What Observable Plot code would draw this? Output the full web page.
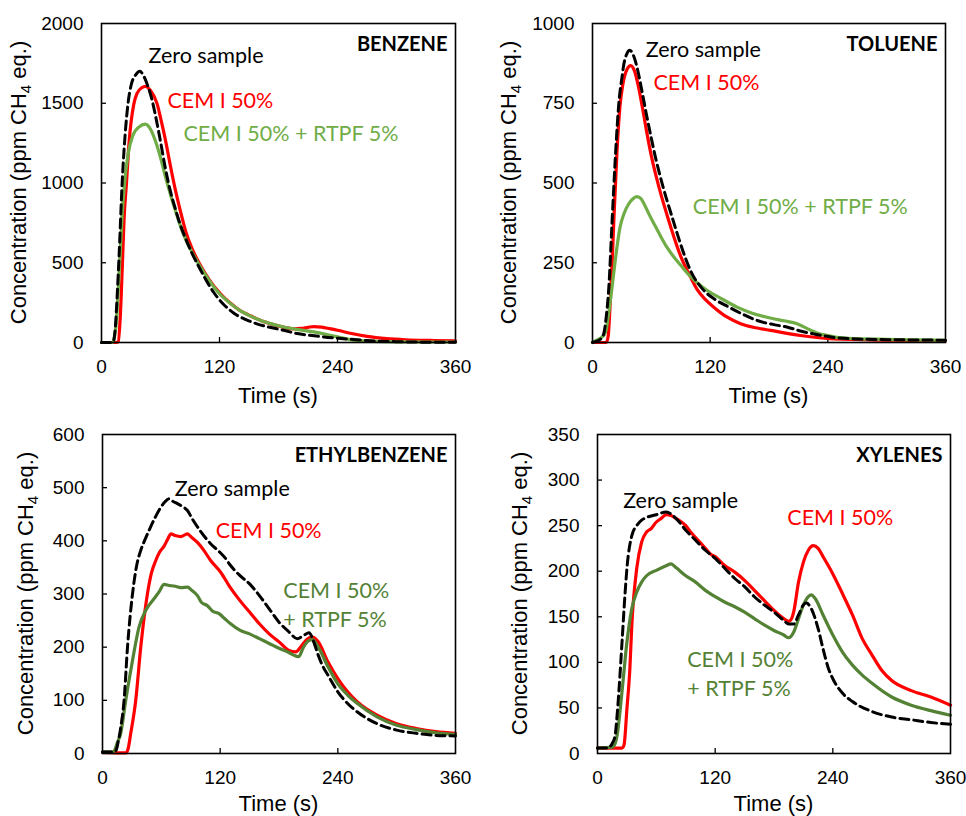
<!DOCTYPE html>
<html><head><meta charset="utf-8">
<script src="https://cdn.jsdelivr.net/npm/d3@7"></script>
<script src="https://cdn.jsdelivr.net/npm/@observablehq/plot@0.6"></script>
<style>
body{margin:0;background:#fff;}
#root{position:relative;width:966px;height:816px;overflow:hidden;}
#root svg{position:absolute;}
</style></head><body><div id="root"></div>
<script>
// ---------- data ----------
const timeTicks = [0, 120, 240, 360];

const benzeneTicks = [0, 500, 1000, 1500, 2000];
const benzeneZero = [[0,0],[10,0],[12,5],[14,90],[16,300],[18,560],[21,1000],[24,1300],[27,1500],[30,1610],[35,1680],[39,1700],[43,1670],[47,1610],[51,1530],[55,1420],[60,1260],[65,1090],[70,950],[75,840],[80,740],[85,660],[92,560],[99,475],[106,395],[114,315],[124,240],[135,182],[147,143],[158,117],[170,97],[185,77],[199,56],[212,45],[226,35],[246,24],[270,12],[300,5],[330,2],[360,1]];
const benzeneCem = [[0,0],[15,0],[17,5],[19,150],[21,450],[23,780],[25.4,1000],[28,1250],[32.9,1496],[36,1560],[41,1598],[45,1606],[50,1578],[56.6,1496],[60,1410],[65,1270],[70,1110],[75,960],[80,830],[85.5,700],[92,590],[100,490],[110,390],[121,305],[130,252],[141,200],[150,172],[162,138],[175,112],[185,96],[195,86],[203,88],[210,95],[216,100],[224,96],[232,87],[240,77],[253,58],[270,38],[290,24],[310,17],[335,13],[360,10]];
const benzeneRtpf = [[0,0],[11,0],[13,30],[15,120],[17,330],[18.6,512],[21,800],[23.4,996],[27,1180],[32,1300],[38,1350],[44.7,1369],[50,1335],[55,1260],[60,1160],[65,1040],[70,930],[75,830],[82,700],[90,590],[100,480],[110,385],[119.4,310],[130,250],[141,200],[150,170],[162,138],[180,105],[195.6,85],[205,76],[220,62],[230,48],[240,35],[253,18],[270,9],[300,4],[360,3]];

const tolueneTicks = [0, 250, 500, 750, 1000];
const tolueneZero = [[0,0],[5,5],[8,10],[11.5,28],[14,80],[16.7,175],[20,382],[23.5,591],[26.8,748],[30,830],[32,873],[35,905],[38,916],[42,898],[46,855],[50,795],[55,715],[60,640],[65,570],[70,510],[75,455],[80,405],[85,355],[93,280],[100,225],[113,165],[125,135],[139,111],[155,86],[168,69],[185,56],[199,48],[212,36],[225.7,27],[246,16],[270,11],[300,9],[330,8],[360,7]];
const tolueneCem = [[0,0],[14,0],[16,20],[18,120],[20,250],[22,400],[25,600],[28,740],[31,810],[35,855],[39,868],[43,850],[47,800],[51,735],[55,665],[60,585],[65,520],[70,462],[75,410],[80,360],[90,270],[100,205],[107,165],[115,135],[124,110],[137,80],[151,59],[165,47],[181.5,38],[212,22],[246,11],[300,7],[360,5]];
const tolueneRtpf = [[0,0],[5,8],[10,18],[13,30],[16,80],[20,175],[25,300],[28,360],[32,403],[37,435],[41,450],[45,457],[49,452],[53,432],[58,400],[64,365],[70,330],[76,298],[83,268],[90,242],[96.5,218],[105,192],[117,163],[130,140],[147.5,111],[160,95],[178,79],[195,68],[208.7,59],[220,42],[229,30],[240,22],[249,16],[270,12],[300,10],[330,8],[360,7]];

const ethylTicks = [0, 100, 200, 300, 400, 500, 600];
const ethylZero = [[0,3],[10,3],[13.5,5],[16,22],[18.6,49],[22,100],[25.5,200],[30.6,300],[35,355],[39,382],[44,405],[49,426],[54,445],[59.4,463],[64,474],[67.9,479],[72,474],[76.4,470],[81,465],[86.6,457],[92,440],[100,418],[110,395],[118.8,380],[125,368],[130,355],[140,335],[150,319],[160,297],[170,272],[180,247],[190,229],[198.7,216],[205,222],[210.6,227],[215,212],[220,185],[225,163],[230,147],[240,116],[250,94],[260,78],[280,56],[300,44],[320,38],[340,34],[360,33]];
const ethylCem = [[0,2],[23.7,1],[26,8],[28.8,38],[33.9,100],[39,200],[45.8,300],[50,340],[54.3,363],[58,378],[62.8,390],[67,405],[69.6,413],[74,410],[79.8,408],[86.6,413],[90,408],[96.8,397],[103,383],[110.3,363],[120.5,341],[130,313],[140,288],[150,266],[160,244],[170,225],[180,210],[190,194],[197,191],[202,200],[207,212],[214,219],[220,210],[230,172],[240,141],[250,116],[260,97],[280,72],[300,56],[320,47],[340,41],[360,38]];
const ethylRtpf = [[0,3],[10,3],[12,5],[15,20],[18.6,38],[23.7,100],[30.6,175],[37.3,238],[44,269],[52.5,291],[58,305],[62.8,318],[68,316],[73,315],[80,312],[86.6,313],[91,307],[96.8,297],[101,284],[107,278],[112,268],[118.8,263],[125,253],[130,245],[140,232],[150,225],[160,216],[170,207],[180,198],[190,190],[195,185],[200,182],[205,200],[210,212],[214,214],[220,200],[230,163],[240,131],[250,110],[260,94],[280,69],[300,53],[320,45],[340,39],[360,36]];

const xyleneTicks = [0, 50, 100, 150, 200, 250, 300, 350];
const xyleneZero = [[0,6],[10,6],[15,11],[18,20],[20,42],[22,71],[25,122],[28,174],[30,203],[35,239],[40,250],[45,256],[50,259],[60,262],[70,265],[80,258],[90,245],[100,234],[110,223],[120,214],[130,203],[140,192],[150,183],[160,172],[170,163],[180,155],[190,146],[195,142],[200,142],[205,152],[210,163],[213,165],[218,159],[225,137],[230,115],[235,95],[240,82],[250,66],[260,57],[280,46],[300,40],[320,37],[340,34],[360,32]];
const xyleneCem = [[0,6],[25,6],[27,9],[30,49],[33,93],[35,141],[40,203],[45,232],[50,243],[55,247],[60,254],[65,258],[70,262],[75,261],[80,258],[90,250],[95,243],[100,237],[110,225],[115,219],[120,216],[130,206],[140,199],[150,190],[160,179],[170,168],[180,157],[190,148],[195,145],[198,148],[200,155],[205,188],[210,210],[215,223],[220,228],[225,225],[230,216],[240,197],[250,175],[260,152],[270,126],[280,108],[290,91],[300,80],[320,69],[340,62],[360,53]];
const xyleneRtpf = [[0,6],[15,7],[18,11],[20,20],[25,68],[30,122],[35,159],[40,177],[45,188],[50,195],[60,201],[70,206],[75,208],[80,204],[90,195],[100,188],[110,179],[120,172],[130,166],[140,161],[150,155],[160,148],[170,141],[180,135],[190,130],[195,127],[200,133],[205,148],[210,163],[215,172],[218,174],[222,170],[230,152],[240,130],[250,111],[260,97],[270,86],[280,77],[300,62],[320,53],[340,47],[360,42]];

const compoundNames = ["BENZENE", "TOLUENE", "ETHYLBENZENE", "XYLENES"];

// annotation anchors (data coordinates: time, concentration); s = series index (0 zero, 1 CEM, 2 CEM+RTPF)
const benzeneNotes = [
  {t:47.8, c:1750, text:"Zero sample", s:0},
  {t:67, c:1469, text:"CEM I 50%", s:1},
  {t:83.4, c:1262, text:"CEM I 50% + RTPF 5%", s:2}];
const tolueneNotes = [
  {t:54.4, c:894, text:"Zero sample", s:0},
  {t:62.2, c:790, text:"CEM I 50%", s:1},
  {t:102.3, c:403, text:"CEM I 50% + RTPF 5%", s:2}];
const ethylNotes = [
  {t:73.7, c:484.6, text:"Zero sample", s:0},
  {t:115.4, c:405.7, text:"CEM I 50%", s:1},
  {t:184.4, c:292.8, text:"CEM I 50%", s:2},
  {t:184.4, c:237, text:"+ RTPF 5%", s:2}];
const xyleneNotes = [
  {t:26.2, c:269.6, text:"Zero sample", s:0},
  {t:193.6, c:251, text:"CEM I 50%", s:1},
  {t:91.5, c:94.4, text:"CEM I 50%", s:2},
  {t:91.5, c:63.3, text:"+ RTPF 5%", s:2}];

// ---------- layout / style ----------
const panels = [
  {title:compoundNames[0], zero:benzeneZero, cem:benzeneCem, rtpf:benzeneRtpf, ticks:benzeneTicks, notes:benzeneNotes,
   left:0, top:0, ml:101, mr:28, mt:23, mb:66, green:"#70AD47", yLab:75, xLab:61},
  {title:compoundNames[1], zero:tolueneZero, cem:tolueneCem, rtpf:tolueneRtpf, ticks:tolueneTicks, notes:tolueneNotes,
   left:483, top:0, ml:109, mr:21, mt:23, mb:66, green:"#70AD47", yLab:76, xLab:61},
  {title:compoundNames[2], zero:ethylZero, cem:ethylCem, rtpf:ethylRtpf, ticks:ethylTicks, notes:ethylNotes,
   left:0, top:408, ml:102, mr:28, mt:26, mb:63, green:"#548235", yLab:69, xLab:58},
  {title:compoundNames[3], zero:xyleneZero, cem:xyleneCem, rtpf:xyleneRtpf, ticks:xyleneTicks, notes:xyleneNotes,
   left:483, top:408, ml:114, mr:16, mt:26, mb:63, green:"#548235", yLab:70, xLab:58}
];

const W = 483, H = 408;
const root = document.getElementById("root");
const fmt = d => String(d);

for (const p of panels) {
  const plotW = W - p.ml - p.mr, plotH = H - p.mt - p.mb;
  const yMax = p.ticks[p.ticks.length - 1];
  const colors = ["#000000", "#FF0000", p.green];
  const svg = Plot.plot({
    width: W, height: H,
    marginLeft: p.ml, marginRight: p.mr, marginTop: p.mt, marginBottom: p.mb,
    style: {fontFamily: "'Liberation Sans', Arial, sans-serif", fontSize: "19px", color: "#000", background: "transparent"},
    x: {domain: [0, 360]},
    y: {domain: [0, yMax]},
    marks: [
      Plot.axisX({ticks: timeTicks, tickFormat: fmt, tickSize: 0, tickPadding: 17, label: null, fontSize: 19, fill: "#000"}),
      Plot.axisY({ticks: p.ticks, tickFormat: fmt, tickSize: 0, tickPadding: 18, label: null, fontSize: 19, fill: "#000"}),
      Plot.tickX(timeTicks.slice(1, -1), {x: d => d, insetTop: plotH - 5, stroke: "#000", strokeWidth: 1.3}),
      Plot.tickY(p.ticks.slice(1, -1), {y: d => d, insetRight: plotW - 5, stroke: "#000", strokeWidth: 1.3}),
      Plot.line(p.cem, {x: d => d[0], y: d => d[1], stroke: colors[1], strokeWidth: 3.2, curve: "monotone-x"}),
      Plot.line(p.rtpf, {x: d => d[0], y: d => d[1], stroke: colors[2], strokeWidth: 3.2, curve: "monotone-x"}),
      Plot.line(p.zero, {x: d => d[0], y: d => d[1], stroke: colors[0], strokeWidth: 3, strokeDasharray: "9,5", curve: "monotone-x"}),
      Plot.text(p.notes, {x: "t", y: "c", text: "text", fill: d => colors[d.s], textAnchor: "start", lineAnchor: "bottom",
        fontSize: 21.5, fontFamily: "Lato, 'Open Sans', sans-serif"}),
      Plot.text([p.title], {frameAnchor: "top-right", dx: -8, dy: 13, text: d => d, fill: "#000",
        fontSize: 20, fontWeight: "bold", fontFamily: "Lato, 'Open Sans', sans-serif"}),
      Plot.frame({stroke: "#000", strokeWidth: 1.6})
    ]
  });
  svg.style.left = p.left + "px";
  svg.style.top = p.top + "px";
  const s = d3.select(svg);
  // y label with subscript
  const yl = s.append("text")
    .attr("transform", `translate(${p.ml - p.yLab},${p.mt + plotH / 2}) rotate(-90)`)
    .attr("text-anchor", "middle")
    .attr("font-size", 22)
    .attr("font-family", "'Liberation Sans', Arial, sans-serif")
    .attr("fill", "#000");
  yl.append("tspan").text("Concentration (ppm CH");
  yl.append("tspan").attr("font-size", 15).attr("dy", 5).text("4");
  yl.append("tspan").attr("dy", -5).text(" eq.)");
  // x label
  s.append("text")
    .attr("x", p.ml + plotW / 2)
    .attr("y", p.mt + plotH + p.xLab)
    .attr("text-anchor", "middle")
    .attr("font-size", 22)
    .attr("font-family", "'Liberation Sans', Arial, sans-serif")
    .attr("fill", "#000")
    .text("Time (s)");
  root.appendChild(svg);
}
</script></body></html>
